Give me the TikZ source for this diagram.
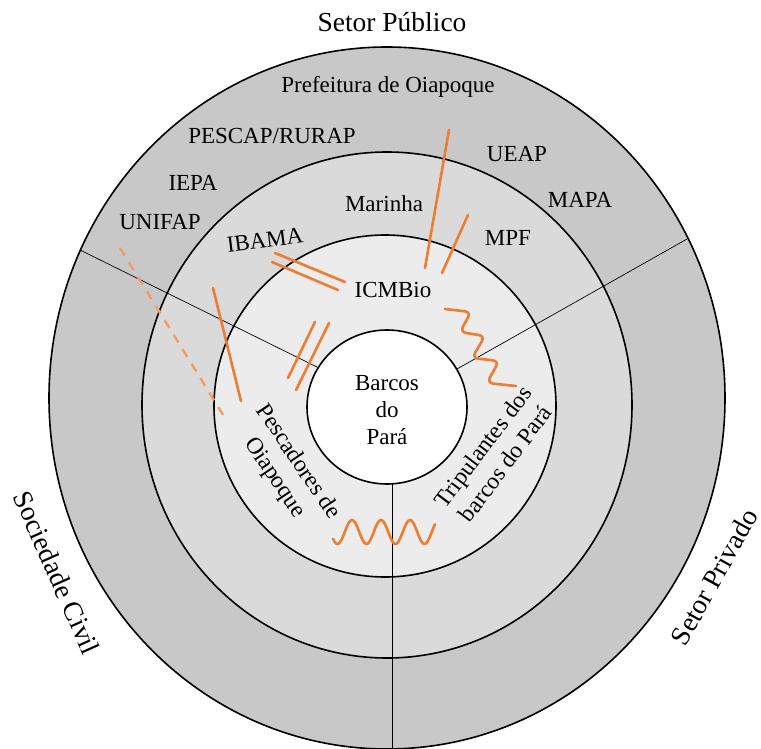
\documentclass[tikz,border=0pt]{standalone}
\usepackage{fontspec}
\setmainfont{Liberation Serif}
\definecolor{ringA}{RGB}{200,200,200}
\definecolor{ringB}{RGB}{218,218,218}
\definecolor{ringC}{RGB}{236,236,236}
\definecolor{orA}{RGB}{237,125,49}
\definecolor{orB}{RGB}{241,158,100}
\begin{document}
\begin{tikzpicture}[x=1pt,y=-1pt,
  lbl/.style={font=\fontsize{23}{27}\selectfont, inner sep=0pt, align=center},
  biglbl/.style={font=\fontsize{27.5}{32}\selectfont, inner sep=0pt},
  rim/.style={draw=black, line width=1.6pt},
  divider/.style={draw=black, line width=0.7pt},
  orl/.style={draw=orA, line width=2.6pt, line cap=round},
  ordash/.style={draw=orB, line width=2.4pt, dashed, dash pattern=on 9pt off 8pt},
  orwave/.style={draw=orA, line width=2.6pt, line cap=round, line join=round}]
\useasboundingbox (0,0) rectangle (761,749);
\fill[white] (0,0) rectangle (761,749);
% rings
\fill[ringA] (387,398) ellipse [x radius=338, y radius=351];
\fill[ringB] (387,405) ellipse [x radius=245, y radius=253];
\fill[ringC] (385,406) ellipse [x radius=171, y radius=171];
\fill[white] (387,407) ellipse [x radius=80, y radius=77];
% dividers
\coordinate (ulin) at (317,367);
\coordinate (ulout) at (80,250);
\coordinate (urin) at (457,369);
\coordinate (urout) at (687,239);
\coordinate (bin) at (392,484);
\coordinate (bout) at (392,749);
\draw[divider] (ulin) -- (ulout);
\draw[divider] (urin) -- (urout);
\draw[divider] (bin) -- (bout);
% outlines
\draw[rim] (387,398) ellipse [x radius=338, y radius=351];
\draw[rim] (387,405) ellipse [x radius=245, y radius=253];
\draw[rim] (385,406) ellipse [x radius=171, y radius=171];
\draw[rim] (387,407) ellipse [x radius=80, y radius=77];
% labels
\node[biglbl] (pub) at (392,22) {Setor Público};
\node[biglbl, rotate=-66] (civ) at (57,573) {Sociedade Civil};
\node[biglbl, rotate=61] (priv) at (714,577) {Setor Privado};
\node[lbl] (pref) at (388,87) {Prefeitura de Oiapoque};
\node[lbl] (pescap) at (272,136) {PESCAP/RURAP};
\node[lbl] (iepa) at (193,183) {IEPA};
\node[lbl] (unifap) at (160,222) {UNIFAP};
\node[lbl, rotate=7] (ibama) at (265,240) {IBAMA};
\node[lbl] (marinha) at (384,204) {Marinha};
\node[lbl] (ueap) at (517,154) {UEAP};
\node[lbl] (mapa) at (580,200) {MAPA};
\node[lbl] (mpf) at (508,238) {MPF};
\node[lbl] (icmbio) at (393,290) {ICMBio};
\node[lbl] (barcos) at (387,410) {Barcos\\do\\Pará};
\node[lbl, font=\fontsize{23.5}{28}\selectfont, rotate=-56] (pesc) at (286,470) {Pescadores de\\Oiapoque};
\node[lbl, font=\fontsize{23.5}{28}\selectfont, rotate=53] (trip) at (494,455) {Tripulantes dos\\barcos do Pará};
% orange relations
\draw[orl] (449,130) -- (425,268);
\draw[orl] (468,215) -- (442,273);
\draw[orl] (275,253) -- (345,282);
\draw[orl] (272,262) -- (338,290);
\draw[orl] (315,322) -- (288,378);
\draw[orl] (329,323) -- (296,390);
\draw[orl] (213,288) -- (241,401);
\draw[ordash] (120,248) -- (225,418);
\draw[orwave, rounded corners=6pt] (445,309) -- (471,312) -- (460,332) -- (485,336) -- (472,358) -- (499,361) -- (487,383) -- (516,386);
\draw[orwave] plot[domain=0:102, samples=90, smooth] ({333+\x}, {532 - 12*sin((\x-11.75)/29*360)});
\end{tikzpicture}
\end{document}
